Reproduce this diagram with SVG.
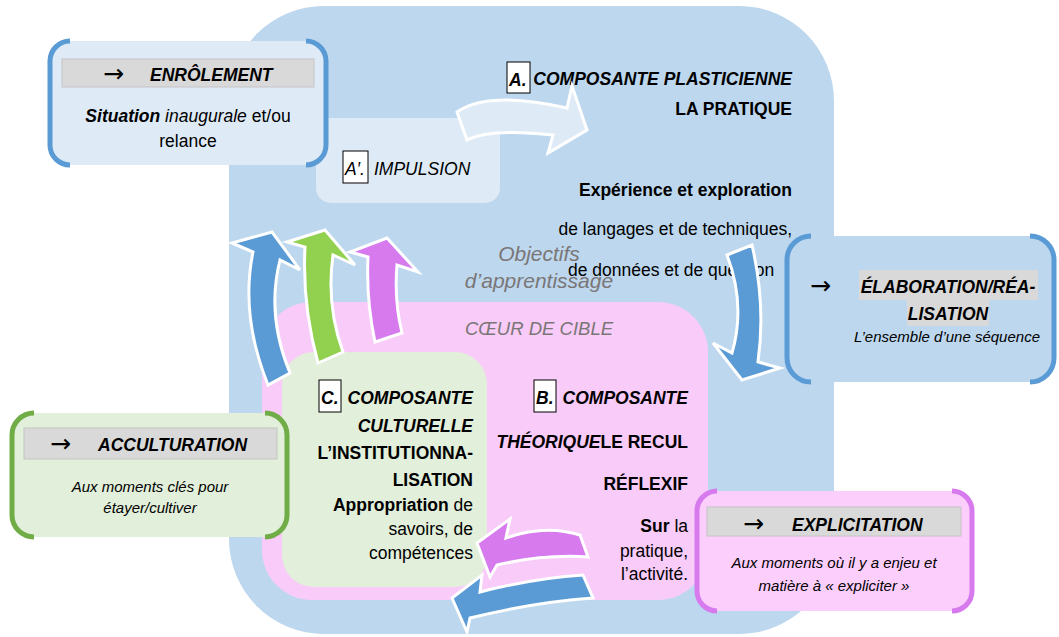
<svg xmlns="http://www.w3.org/2000/svg" width="1059" height="637" viewBox="0 0 1059 637">
<style>
text{font-family:"Liberation Sans",Arial,sans-serif;fill:#000;}
.t{font-size:17.5px;}
.b{font-weight:bold;}
.i{font-style:italic;}
.bi{font-weight:bold;font-style:italic;}
.s{font-size:15px;font-style:italic;}
.g{fill:#7a7676;font-style:italic;}
.ar{font-size:25px;font-family:"DejaVu Sans","Liberation Sans",sans-serif;}
.hdr{fill:#D9D9D9;stroke:#C4C4C4;stroke-width:1;}
.lab{fill:#fff;stroke:#000;stroke-width:1;}
.brb{fill:none;stroke:#5B9BD5;stroke-width:5;}
.brg{fill:none;stroke:#70AD47;stroke-width:5;}
.brv{fill:none;stroke:#D67AEE;stroke-width:5;}
.arw{stroke:#fff;stroke-width:3;stroke-linejoin:miter;}
</style>

<g id="outer">
<rect x="229" y="6" width="605" height="628" rx="95" ry="95" fill="#BDD7EE"/>
</g>

<g id="impulsion">
<rect x="316" y="118" width="184" height="85" rx="15" fill="#DEEBF7"/>
<rect class="lab" x="343" y="151" width="25" height="32"/>
<text class="t i" x="345" y="175">A′.</text>
<text class="t i" x="374" y="175">IMPULSION</text>
</g>

<g id="enrolement">
<rect x="50" y="41" width="276" height="124" rx="20" fill="#DEEBF7"/>
<path class="brb" d="M70,41 A20,20 0 0 0 50,61 L50,145 A20,20 0 0 0 70,165"/>
<path class="brb" d="M306,41 A20,20 0 0 1 326,61 L326,145 A20,20 0 0 1 306,165"/>
<rect class="hdr" x="62" y="59" width="252" height="28"/>
<text class="ar" x="103" y="82">→</text>
<text class="t bi" x="150" y="81">ENRÔLEMENT</text>
<text class="t" x="188" y="122" text-anchor="middle"><tspan class="bi">Situation</tspan> <tspan class="i">inaugurale</tspan> et/ou</text>
<text class="t" x="188" y="147" text-anchor="middle">relance</text>
</g>

<g id="plasticienne">
<rect class="lab" x="507" y="62" width="23" height="31"/>
<text class="t bi" x="509" y="86">A.</text>
<text class="t bi" x="792" y="85" text-anchor="end">COMPOSANTE PLASTICIENNE</text>
<text class="t b" x="792" y="115" text-anchor="end">LA PRATIQUE</text>
<text class="t b" x="792" y="196" text-anchor="end">Expérience et exploration</text>
<text class="t" x="792" y="235" text-anchor="end">de langages et de techniques,</text>
<text class="t" x="568" y="276">de données et de question</text>
<text class="g" x="539" y="261" text-anchor="middle" font-size="21">Objectifs</text>
<text class="g" x="539" y="288" text-anchor="middle" font-size="21">d’apprentissage</text>
</g>

<g id="coeur">
<rect x="262" y="302" width="446" height="298" rx="50" fill="#F8CBF8"/>
<text class="g" x="539" y="335" text-anchor="middle" font-size="18.5">CŒUR DE CIBLE</text>
</g>

<g id="culturelle">
<rect x="282" y="352" width="205" height="235" rx="32" fill="#E2EFDA"/>
<rect class="lab" x="319" y="380" width="22" height="32"/>
<text class="t bi" x="321" y="404">C.</text>
<text class="t bi" x="473" y="404" text-anchor="end">COMPOSANTE</text>
<text class="t bi" x="473" y="432" text-anchor="end">CULTURELLE</text>
<text class="t b" x="473" y="459" text-anchor="end">L’INSTITUTIONNA-</text>
<text class="t b" x="473" y="486" text-anchor="end">LISATION</text>
<text class="t" x="473" y="511" text-anchor="end"><tspan class="b">Appropriation</tspan> de</text>
<text class="t" x="473" y="535" text-anchor="end">savoirs, de</text>
<text class="t" x="473" y="559" text-anchor="end">compétences</text>
</g>

<g id="theorique">
<rect class="lab" x="534" y="380" width="22" height="32"/>
<text class="t bi" x="536" y="404">B.</text>
<text class="t bi" x="688" y="404" text-anchor="end">COMPOSANTE</text>
<text class="t" x="688" y="448" text-anchor="end"><tspan class="bi">THÉORIQUE</tspan><tspan class="b">LE RECUL</tspan></text>
<text class="t b" x="688" y="490" text-anchor="end">RÉFLEXIF</text>
<text class="t" x="688" y="532" text-anchor="end"><tspan class="b">Sur</tspan> la</text>
<text class="t" x="688" y="557" text-anchor="end">pratique,</text>
<text class="t" x="688" y="580" text-anchor="end">l’activité.</text>
</g>

<g id="elaboration">
<rect x="787" y="236" width="267" height="146" rx="24" fill="#BDD7EE"/>
<path class="brb" d="M811,236 A24,24 0 0 0 787,260 L787,358 A24,24 0 0 0 811,382"/>
<path class="brb" d="M1030,236 A24,24 0 0 1 1054,260 L1054,358 A24,24 0 0 1 1030,382"/>
<rect x="859" y="270" width="179" height="30" fill="#D9D9D9"/>
<rect x="907" y="300" width="82" height="26" fill="#D9D9D9"/>
<text class="ar" x="810" y="294">→</text>
<text class="t bi" x="948" y="293" text-anchor="middle">ÉLABORATION/RÉA-</text>
<text class="t bi" x="948" y="320" text-anchor="middle">LISATION</text>
<text class="s" x="947" y="342" text-anchor="middle">L’ensemble d’une séquence</text>
</g>

<g id="acculturation">
<rect x="12" y="413" width="275" height="124" rx="22" fill="#E2EFDA"/>
<path class="brg" d="M34,413 A22,22 0 0 0 12,435 L12,515 A22,22 0 0 0 34,537"/>
<path class="brg" d="M265,413 A22,22 0 0 1 287,435 L287,515 A22,22 0 0 1 265,537"/>
<rect class="hdr" x="24" y="428" width="253" height="31"/>
<text class="ar" x="50" y="452">→</text>
<text class="t bi" x="98" y="451">ACCULTURATION</text>
<text class="s" x="150" y="492" text-anchor="middle">Aux moments clés pour</text>
<text class="s" x="150" y="513" text-anchor="middle">étayer/cultiver</text>
</g>

<g id="explicitation">
<rect x="697" y="491" width="275" height="120" rx="20" fill="#FCCEFC"/>
<path class="brv" d="M717,491 A20,20 0 0 0 697,511 L697,591 A20,20 0 0 0 717,611"/>
<path class="brv" d="M952,491 A20,20 0 0 1 972,511 L972,591 A20,20 0 0 1 952,611"/>
<rect class="hdr" x="707" y="507" width="254" height="29"/>
<text class="ar" x="743" y="532">→</text>
<text class="t bi" x="792" y="531">EXPLICITATION</text>
<text class="s" x="834" y="568" text-anchor="middle">Aux moments où il y a enjeu et</text>
<text class="s" x="834" y="591" text-anchor="middle">matière à « expliciter »</text>
</g>

<g id="connectors">
<path class="arw" fill="#DEEBF7" d="M457,112 Q488,90 567,108 L572,86 L587,130 L548,153 L553,135 Q490,128 467,140 Z"/>
<path class="arw" fill="#5B9BD5" d="M268,385 Q240,315 253,252 L232,243 L272,232 L300,270 L280,260 Q266,315 290,373 Z"/>
<path class="arw" fill="#92D050" d="M318,363 Q302,305 305,247 L287,242 L325,230 L355,265 L333,255 Q326,305 343,352 Z"/>
<path class="arw" fill="#D67AEE" d="M375,342 Q366,300 368,257 L350,252 L387,238 L418,272 L397,265 Q394,300 402,333 Z"/>
<path class="arw" fill="#5B9BD5" d="M727,255 L752,245 Q766,305 758,362 L780,368 L742,380 L713,343 L732,353 Q746,305 727,255 Z"/>
<path class="arw" fill="#D67AEE" d="M506,538 Q545,524 580,535 L588,557 Q545,554 497,565 L490,577 L477,543 L510,519 Z"/>
<path class="arw" fill="#5B9BD5" d="M480,592 Q535,578 583,575 L593,598 Q535,602 470,618 L467,632 L452,598 L482,575 Z"/>
</g>
</svg>
